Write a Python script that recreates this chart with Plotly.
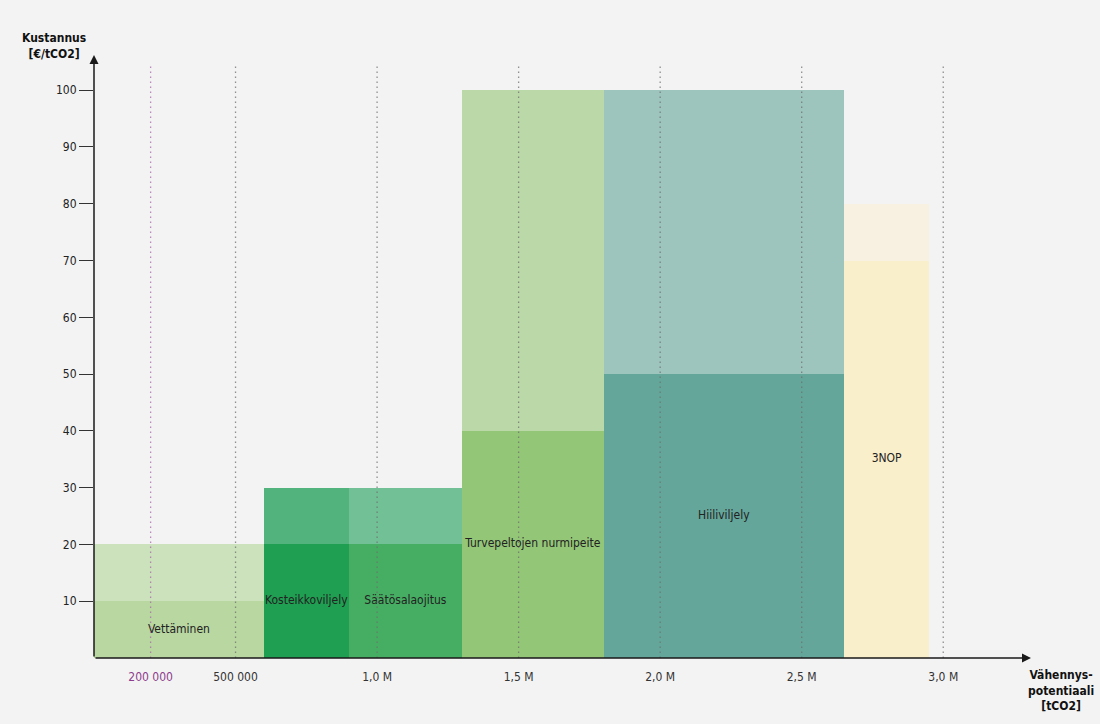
import plotly.graph_objects as go

# ---- data ----
measures = ["Vettäminen", "Kosteikkoviljely", "Säätösalaojitus",
            "Turvepeltojen nurmipeite", "Hiiliviljely", "3NOP"]
potential = [600000, 300000, 400000, 500000, 850000, 300000]   # tCO2 (bar widths)
cost_low = [10, 20, 20, 40, 50, 70]                             # €/tCO2
cost_high = [20, 30, 30, 100, 100, 80]                          # €/tCO2

x_tickvals = [200000, 500000, 1000000, 1500000, 2000000, 2500000, 3000000]
x_ticktext = ["200 000", "500 000", "1,0 M", "1,5 M", "2,0 M", "2,5 M", "3,0 M"]
y_tickvals = [10, 20, 30, 40, 50, 60, 70, 80, 90, 100]

# ---- styles ----
low_colors = ["#b8d7a1", "#1f9f51", "#46ae62", "#94c678", "#64a69a", "#faefcb"]
high_colors = ["#cbe2bc", "#52b47c", "#72c096", "#bbd9a8", "#9dc5be", "#f8f1e1"]
BG = "#f3f3f3"
FONT = "DejaVu Sans Condensed, DejaVu Sans, sans-serif"

starts = []
acc = 0
for w in potential:
    starts.append(acc)
    acc += w
centers = [s + w / 2 for s, w in zip(starts, potential)]
upper = [h - l for h, l in zip(cost_high, cost_low)]

fig = go.Figure()
fig.add_trace(go.Bar(x=centers, y=cost_low, width=potential, base=0,
                     marker=dict(color=low_colors, line=dict(width=0)),
                     hoverinfo="skip", showlegend=False))
fig.add_trace(go.Bar(x=centers, y=upper, width=potential, base=cost_low,
                     marker=dict(color=high_colors, line=dict(width=0)),
                     hoverinfo="skip", showlegend=False))
fig.add_trace(go.Scatter(x=centers, y=[l / 2 for l in cost_low], mode="text",
                         text=measures, textposition="middle center",
                         textfont=dict(family=FONT, size=12, color="#222"),
                         hoverinfo="skip", showlegend=False))

X_MAX = 3310000
Y_MAX = 106.2

# dotted vertical grid lines drawn above the bars
for v in x_tickvals:
    col = "rgba(170,100,170,0.75)" if v == 200000 else "rgba(110,110,110,0.75)"
    fig.add_shape(type="line", xref="x", yref="y", x0=v, x1=v, y0=0, y1=104.4,
                  line=dict(color=col, width=1.3, dash="1.5px,3.5px"), layer="above")

# axes with arrowheads
fig.add_annotation(x=0, y=Y_MAX, ax=0, ay=0, xref="x", yref="y", axref="x", ayref="y",
                   showarrow=True, arrowhead=2, arrowsize=1.2, arrowwidth=1.5,
                   arrowcolor="#1a1a1a", text="")
fig.add_annotation(x=X_MAX, y=0, ax=0, ay=0, xref="x", yref="y", axref="x", ayref="y",
                   showarrow=True, arrowhead=2, arrowsize=1.2, arrowwidth=1.5,
                   arrowcolor="#1a1a1a", text="")

# axis titles
fig.add_annotation(xref="paper", yref="paper", x=-0.043, y=1.0, xanchor="center", yanchor="bottom",
                   text="<b>Kustannus<br>[€/tCO2]</b>", showarrow=False, align="center",
                   font=dict(family=FONT, size=12, color="#111"), yshift=-8)
fig.add_annotation(xref="paper", yref="paper", x=1.032, y=0, xanchor="center", yanchor="top",
                   text="<b>Vähennys-<br>potentiaali<br>[tCO2]</b>", showarrow=False, align="center",
                   font=dict(family=FONT, size=12, color="#111"), yshift=-8)

ticktext = [f'<span style="color:#8e3c8e">{t}</span>' if v == 200000 else t
            for v, t in zip(x_tickvals, x_ticktext)]

fig.update_layout(
    width=1100, height=724,
    margin=dict(l=94, r=69, t=55, b=66),
    paper_bgcolor=BG, plot_bgcolor=BG,
    barmode="overlay", bargap=0,
    font=dict(family=FONT, size=12, color="#333"),
    xaxis=dict(range=[0, X_MAX], tickvals=x_tickvals, ticktext=ticktext,
               showgrid=False, zeroline=False, showline=False,
               ticks="outside", ticklen=8, tickcolor="rgba(0,0,0,0)",
               tickfont=dict(family=FONT, size=12, color="#333"), fixedrange=True),
    yaxis=dict(range=[0, Y_MAX], tickvals=y_tickvals,
               showgrid=False, zeroline=False, showline=False,
               ticks="outside", ticklen=14, tickwidth=1, tickcolor="#333",
               tickfont=dict(family=FONT, size=12, color="#222"), fixedrange=True),
)

fig.write_html("out.html")
